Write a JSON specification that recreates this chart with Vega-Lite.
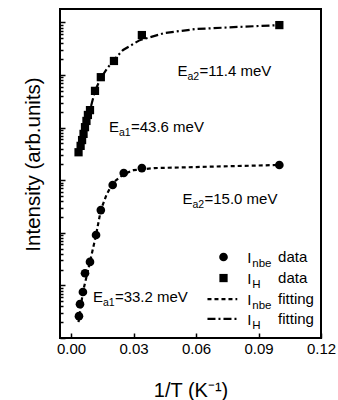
{
  "$schema": "https://vega.github.io/schema/vega-lite/v6.json",
  "width": 261,
  "height": 329,
  "autosize": "none",
  "padding": {"left": 60, "top": 9, "right": 17, "bottom": 62},
  "background": "white",
  "config": {
    "view": {"stroke": "black", "strokeWidth": 2},
    "font": "Liberation Sans",
    "text": {"font": "Liberation Sans", "color": "black"},
    "axis": {"domain": false, "grid": false, "tickColor": "black", "tickWidth": 1.5, "labelColor": "black", "titleColor": "black", "labelFont": "Liberation Sans", "titleFont": "Liberation Sans", "titleFontWeight": "normal"}
  },
  "datasets": {
    "pts": [
      {"series": "IH", "x": 0.0036, "y": 3400},
      {"series": "IH", "x": 0.0046, "y": 4500},
      {"series": "IH", "x": 0.0053, "y": 5800},
      {"series": "IH", "x": 0.0060, "y": 7600},
      {"series": "IH", "x": 0.0067, "y": 10200},
      {"series": "IH", "x": 0.0074, "y": 13400},
      {"series": "IH", "x": 0.0081, "y": 17400},
      {"series": "IH", "x": 0.0091, "y": 21500},
      {"series": "IH", "x": 0.0115, "y": 50000},
      {"series": "IH", "x": 0.0143, "y": 91000},
      {"series": "IH", "x": 0.0206, "y": 185000},
      {"series": "IH", "x": 0.0340, "y": 575000},
      {"series": "IH", "x": 0.1000, "y": 890000},
      {"series": "Inbe", "x": 0.0038, "y": 2.6},
      {"series": "Inbe", "x": 0.0043, "y": 4.4},
      {"series": "Inbe", "x": 0.0057, "y": 7.5},
      {"series": "Inbe", "x": 0.0067, "y": 17},
      {"series": "Inbe", "x": 0.0091, "y": 28},
      {"series": "Inbe", "x": 0.0120, "y": 91},
      {"series": "Inbe", "x": 0.0143, "y": 270},
      {"series": "Inbe", "x": 0.0200, "y": 810},
      {"series": "Inbe", "x": 0.0253, "y": 1370},
      {"series": "Inbe", "x": 0.0340, "y": 1700},
      {"series": "Inbe", "x": 0.1000, "y": 1950}
    ],
    "fits": [
      {"series": "IH", "x": 0.0036, "y": 3400},
      {"series": "IH", "x": 0.0091, "y": 21500},
      {"series": "IH", "x": 0.0115, "y": 50000},
      {"series": "IH", "x": 0.0143, "y": 88000},
      {"series": "IH", "x": 0.0175, "y": 136000},
      {"series": "IH", "x": 0.0206, "y": 194000},
      {"series": "IH", "x": 0.0250, "y": 300000},
      {"series": "IH", "x": 0.0330, "y": 460000},
      {"series": "IH", "x": 0.0450, "y": 630000},
      {"series": "IH", "x": 0.0600, "y": 750000},
      {"series": "IH", "x": 0.0800, "y": 820000},
      {"series": "IH", "x": 0.1000, "y": 890000},
      {"series": "Inbe", "x": 0.0036, "y": 2.0},
      {"series": "Inbe", "x": 0.0057, "y": 7.5},
      {"series": "Inbe", "x": 0.0091, "y": 28},
      {"series": "Inbe", "x": 0.0120, "y": 91},
      {"series": "Inbe", "x": 0.0143, "y": 270},
      {"series": "Inbe", "x": 0.0170, "y": 525},
      {"series": "Inbe", "x": 0.0200, "y": 890},
      {"series": "Inbe", "x": 0.0253, "y": 1300},
      {"series": "Inbe", "x": 0.0300, "y": 1550},
      {"series": "Inbe", "x": 0.0400, "y": 1700},
      {"series": "Inbe", "x": 0.0600, "y": 1780},
      {"series": "Inbe", "x": 0.1000, "y": 1950}
    ],
    "notes": [
      {"x": 0.0511, "y": 96000, "sub": "a2", "rest": "=11.4 meV"},
      {"x": 0.0182, "y": 8300, "sub": "a1", "rest": "=43.6 meV"},
      {"x": 0.0535, "y": 355, "sub": "a2", "rest": "=15.0 meV"},
      {"x": 0.0105, "y": 4.8, "sub": "a1", "rest": "=33.2 meV"}
    ],
    "legtext": [
      {"ix": 0.0846, "wx": 0.0994, "y": 34.7, "sub": "nbe", "word": "data"},
      {"ix": 0.0846, "wx": 0.0994, "y": 13.8, "sub": "H", "word": "data"},
      {"ix": 0.0846, "wx": 0.0994, "y": 5.5, "sub": "nbe", "word": "fitting"},
      {"ix": 0.0846, "wx": 0.0994, "y": 2.3, "sub": "H", "word": "fitting"}
    ],
    "legsym": [
      {"series": "Inbe", "x": 0.0732, "y": 34.7},
      {"series": "IH", "x": 0.0732, "y": 13.8}
    ],
    "legline": [
      {"series": "Inbe", "x": 0.0655, "x2": 0.0798, "y": 5.5},
      {"series": "IH", "x": 0.0655, "x2": 0.0798, "y": 2.3}
    ]
  },
  "layer": [
    {
      "data": {"name": "fits"},
      "transform": [{"filter": "datum.series == 'Inbe'"}],
      "mark": {"type": "line", "color": "black", "strokeWidth": 2.2, "strokeDash": [4, 3]},
      "encoding": {
        "x": {
          "field": "x", "type": "quantitative",
          "scale": {"domain": [-0.0053, 0.12], "nice": false, "zero": false},
          "axis": {
            "title": "1/T (K⁻¹)",
            "titleFontSize": 20,
            "titleY": 58,
            "titleBaseline": "alphabetic",
            "values": [0, 0.015, 0.03, 0.045, 0.06, 0.075, 0.09, 0.105, 0.12],
            "labelExpr": "abs(datum.value*100/3 - round(datum.value*100/3)) < 0.01 ? format(datum.value, '.2f') : ''",
            "labelFontSize": 15,
            "labelPadding": 8,
            "labelFlush": false,
            "labelOverlap": false,
            "tickSize": {"condition": {"test": "abs(datum.value*100/3 - round(datum.value*100/3)) < 0.01", "value": -5}, "value": -3}
          }
        },
        "y": {
          "field": "y", "type": "quantitative",
          "scale": {"type": "log", "domain": [1, 1800000], "nice": false},
          "axis": {
            "title": "Intensity (arb.units)",
            "titleFontSize": 20.5,
            "titleX": -27,
            "titleY": 155,
            "titleAngle": -90,
            "titleAlign": "center",
            "titleBaseline": "middle",
            "labels": false,
            "values": [1,2,3,4,5,6,7,8,9,10,20,30,40,50,60,70,80,90,100,200,300,400,500,600,700,800,900,1000,2000,3000,4000,5000,6000,7000,8000,9000,10000,20000,30000,40000,50000,60000,70000,80000,90000,100000,200000,300000,400000,500000,600000,700000,800000,900000,1000000],
            "tickSize": {"condition": {"test": "abs(log(datum.value)/LN10 - round(log(datum.value)/LN10)) < 0.01", "value": -5}, "value": -3}
          }
        }
      }
    },
    {
      "data": {"name": "fits"},
      "transform": [{"filter": "datum.series == 'IH'"}],
      "mark": {"type": "line", "color": "black", "strokeWidth": 2.2, "strokeDash": [8, 3, 2, 3]},
      "encoding": {
        "x": {"field": "x", "type": "quantitative"},
        "y": {"field": "y", "type": "quantitative"}
      }
    },
    {
      "data": {"name": "pts"},
      "transform": [{"filter": "datum.series == 'Inbe'"}],
      "mark": {"type": "point", "shape": "circle", "filled": true, "color": "black", "opacity": 1, "size": 75},
      "encoding": {
        "x": {"field": "x", "type": "quantitative"},
        "y": {"field": "y", "type": "quantitative"}
      }
    },
    {
      "data": {"name": "pts"},
      "transform": [{"filter": "datum.series == 'IH'"}],
      "mark": {"type": "point", "shape": "square", "filled": true, "color": "black", "opacity": 1, "size": 68},
      "encoding": {
        "x": {"field": "x", "type": "quantitative"},
        "y": {"field": "y", "type": "quantitative"}
      }
    },
    {
      "data": {"name": "notes"},
      "mark": {"type": "text", "text": "E", "fontSize": 15, "align": "left", "baseline": "alphabetic"},
      "encoding": {
        "x": {"field": "x", "type": "quantitative"},
        "y": {"field": "y", "type": "quantitative"}
      }
    },
    {
      "data": {"name": "notes"},
      "mark": {"type": "text", "fontSize": 10.5, "align": "left", "baseline": "alphabetic", "dx": 10, "dy": 4},
      "encoding": {
        "x": {"field": "x", "type": "quantitative"},
        "y": {"field": "y", "type": "quantitative"},
        "text": {"field": "sub"}
      }
    },
    {
      "data": {"name": "notes"},
      "mark": {"type": "text", "fontSize": 15, "align": "left", "baseline": "alphabetic", "dx": 22},
      "encoding": {
        "x": {"field": "x", "type": "quantitative"},
        "y": {"field": "y", "type": "quantitative"},
        "text": {"field": "rest"}
      }
    },
    {
      "data": {"name": "legsym"},
      "transform": [{"filter": "datum.series == 'Inbe'"}],
      "mark": {"type": "point", "shape": "circle", "filled": true, "color": "black", "opacity": 1, "size": 75},
      "encoding": {
        "x": {"field": "x", "type": "quantitative"},
        "y": {"field": "y", "type": "quantitative"}
      }
    },
    {
      "data": {"name": "legsym"},
      "transform": [{"filter": "datum.series == 'IH'"}],
      "mark": {"type": "point", "shape": "square", "filled": true, "color": "black", "opacity": 1, "size": 68},
      "encoding": {
        "x": {"field": "x", "type": "quantitative"},
        "y": {"field": "y", "type": "quantitative"}
      }
    },
    {
      "data": {"name": "legline"},
      "transform": [{"filter": "datum.series == 'Inbe'"}],
      "mark": {"type": "rule", "color": "black", "strokeWidth": 2.2, "strokeDash": [4, 3]},
      "encoding": {
        "x": {"field": "x", "type": "quantitative"},
        "x2": {"field": "x2"},
        "y": {"field": "y", "type": "quantitative"}
      }
    },
    {
      "data": {"name": "legline"},
      "transform": [{"filter": "datum.series == 'IH'"}],
      "mark": {"type": "rule", "color": "black", "strokeWidth": 2.2, "strokeDash": [8, 3, 2, 3]},
      "encoding": {
        "x": {"field": "x", "type": "quantitative"},
        "x2": {"field": "x2"},
        "y": {"field": "y", "type": "quantitative"}
      }
    },
    {
      "data": {"name": "legtext"},
      "mark": {"type": "text", "text": "I", "fontSize": 15, "align": "left", "baseline": "middle", "dy": 1},
      "encoding": {
        "x": {"field": "ix", "type": "quantitative"},
        "y": {"field": "y", "type": "quantitative"}
      }
    },
    {
      "data": {"name": "legtext"},
      "mark": {"type": "text", "fontSize": 11.5, "align": "left", "baseline": "middle", "dx": 5, "dy": 7},
      "encoding": {
        "x": {"field": "ix", "type": "quantitative"},
        "y": {"field": "y", "type": "quantitative"},
        "text": {"field": "sub"}
      }
    },
    {
      "data": {"name": "legtext"},
      "mark": {"type": "text", "fontSize": 15, "align": "left", "baseline": "middle"},
      "encoding": {
        "x": {"field": "wx", "type": "quantitative"},
        "y": {"field": "y", "type": "quantitative"},
        "text": {"field": "word"}
      }
    }
  ]
}
